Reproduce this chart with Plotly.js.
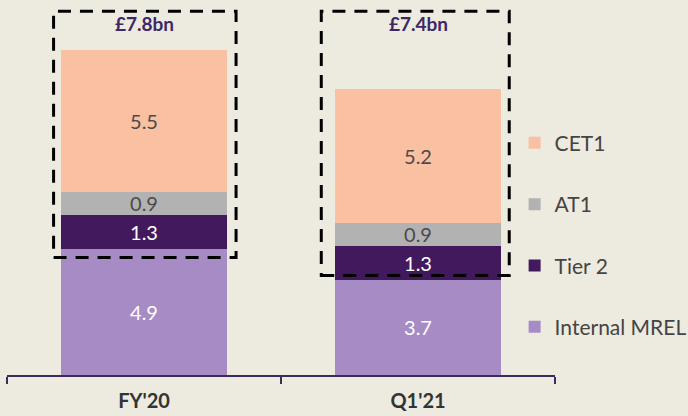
<!DOCTYPE html>
<html>
<head>
<meta charset="utf-8">
<script src="https://cdn.plot.ly/plotly-3.0.1.min.js"></script>
<style>html,body{margin:0;padding:0;background:#EDEAE0;}#chart{width:688px;height:416px;}</style>
</head>
<body>
<div id="chart"></div>
<script>
const categories = ["FY'20", "Q1'21"];
const internalMrel = [4.9, 3.7];
const tier2 = [1.3, 1.3];
const at1 = [0.9, 0.9];
const cet1 = [5.5, 5.2];
const totalLabels = ["£7.8bn", "£7.4bn"];
const seriesNames = ["Internal MREL", "Tier 2", "AT1", "CET1"];

const colors = ["#A68BC4", "#43195E", "#B2B2B2", "#F9C0A2"];
const textColors = ["#FFFFFF", "#FFFFFF", "#4A4A4A", "#4A4A4A"];
const seriesVals = [internalMrel, tier2, at1, cet1];

const traces = seriesVals.map((vals, i) => ({
  type: 'bar',
  name: seriesNames[i],
  x: categories,
  y: vals,
  text: vals.map(v => v.toFixed(1)),
  textposition: 'inside',
  insidetextanchor: 'middle',
  constraintext: 'none',
  textfont: {family: 'Lato, sans-serif', size: 20, color: textColors[i]},
  marker: {color: colors[i], line: {width: 0}},
  width: 0.605,
  legendgroup: 'g' + i,
  legendrank: 100 - i,
  hoverinfo: 'none'
}));

// dashed boxes around the capital stack (offsets relative to category centre)
const boxLeft = [-0.33, -0.353];
const boxRight = [0.336, 0.333];
const boxBottoms = [4.55, 3.86];
const boxTop = 14.1;
const shapes = categories.map((c, i) => ({
  type: 'rect', xref: 'x', yref: 'y',
  x0: i + boxLeft[i], x1: i + boxRight[i],
  y0: boxBottoms[i], y1: boxTop,
  line: {color: '#000000', width: 3, dash: '13px,9px'},
  fillcolor: 'rgba(0,0,0,0)'
}));

const annotations = categories.map((c, i) => ({
  x: i, y: 13.62, xref: 'x', yref: 'y',
  text: '<b>' + totalLabels[i] + '</b>',
  showarrow: false,
  font: {family: 'Lato, sans-serif', size: 19, color: '#3E2765'}
}));

const layout = {
  width: 688, height: 416,
  margin: {l: 7, r: 133, t: 5, b: 41, autoexpand: false},
  paper_bgcolor: '#EDEAE0',
  plot_bgcolor: '#EDEAE0',
  barmode: 'stack',
  showlegend: true,
  legend: {
    xref: 'container', yref: 'container',
    x: 0.748, y: 0.705, xanchor: 'left', yanchor: 'top',
    traceorder: 'grouped',
    tracegroupgap: 31,
    itemwidth: 30,
    maxheight: 400,
    font: {family: 'Lato, sans-serif', size: 21, color: '#444444'},
    bgcolor: 'rgba(0,0,0,0)'
  },
  xaxis: {
    type: 'category',
    range: [-0.5, 1.5],
    showline: true, linecolor: '#3E2A5E', linewidth: 2,
    ticks: 'outside', tickson: 'boundaries', ticklen: 7, tickwidth: 2, tickcolor: '#3E2A5E',
    ticklabelstandoff: 7,
    tickfont: {family: 'Lato, sans-serif', size: 20, color: '#333333', weight: 'bold'},
    showgrid: false, zeroline: false, fixedrange: true
  },
  yaxis: {
    range: [0, 14.34],
    visible: false, showgrid: false, zeroline: false, fixedrange: true
  },
  shapes: shapes,
  annotations: annotations
};

Plotly.newPlot('chart', traces, layout, {displayModeBar: false, staticPlot: true});
</script>
</body>
</html>
